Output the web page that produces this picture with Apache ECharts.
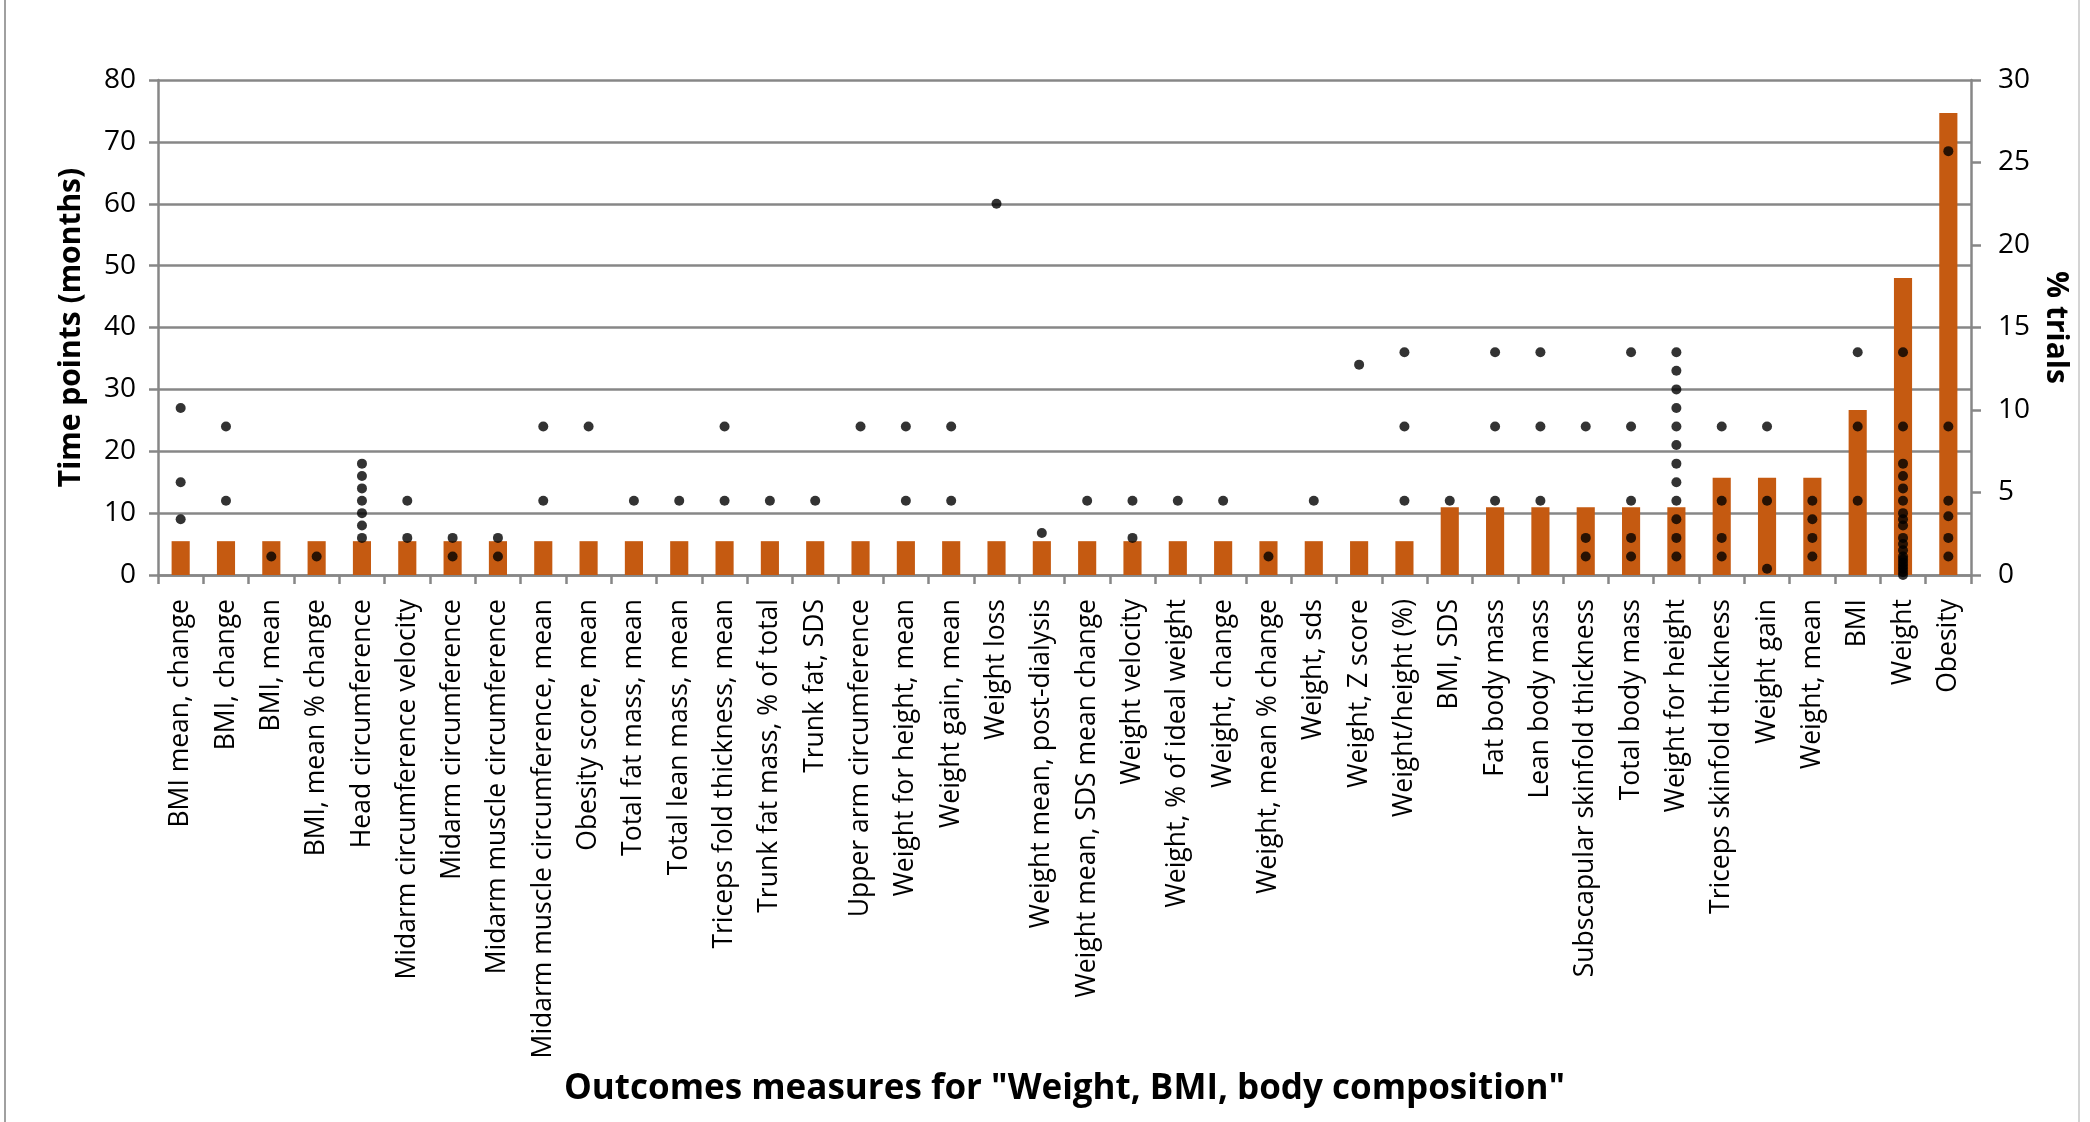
<!DOCTYPE html>
<html>
<head>
<meta charset="utf-8">
<title>Outcome measures</title>
<script src="https://cdn.jsdelivr.net/npm/echarts@6/dist/echarts.min.js"></script>
<style>
  html, body { margin: 0; padding: 0; background: #fff; }
  #chart { width: 2090px; height: 1122px; }
</style>
</head>
<body>
<div id="chart"></div>
<script>
// outcome measures (x axis)
var categories = [
  'BMI mean, change', 'BMI, change', 'BMI, mean', 'BMI, mean % change',
  'Head circumference', 'Midarm circumference velocity', 'Midarm circumference',
  'Midarm muscle circumference', 'Midarm muscle circumference, mean',
  'Obesity score, mean', 'Total fat mass, mean', 'Total lean mass, mean',
  'Triceps fold thickness, mean', 'Trunk fat mass, % of total', 'Trunk fat, SDS',
  'Upper arm circumference', 'Weight for height, mean', 'Weight gain, mean',
  'Weight loss', 'Weight mean, post-dialysis', 'Weight mean, SDS mean change',
  'Weight velocity', 'Weight, % of ideal weight', 'Weight, change',
  'Weight, mean % change', 'Weight, sds', 'Weight, Z score', 'Weight/height (%)',
  'BMI, SDS', 'Fat body mass', 'Lean body mass', 'Subscapular skinfold thickness',
  'Total body mass', 'Weight for height', 'Triceps skinfold thickness',
  'Weight gain', 'Weight, mean', 'BMI', 'Weight', 'Obesity'
];

// % trials (right axis, bars)
var trialPct = [
  2.05, 2.05, 2.05, 2.05, 2.05, 2.05, 2.05, 2.05, 2.05, 2.05,
  2.05, 2.05, 2.05, 2.05, 2.05, 2.05, 2.05, 2.05, 2.05, 2.05,
  2.05, 2.05, 2.05, 2.05, 2.05, 2.05, 2.05, 2.05,
  4.1, 4.1, 4.1, 4.1, 4.1, 4.1,
  5.9, 5.9, 5.9,
  10.0, 18.0, 28.0
];

// time points in months (left axis, dots), one list per outcome
var timePoints = [
  [27, 15, 9], [24, 12], [3], [3],
  [18, 16, 14, 12, 10, 8, 6], [12, 6], [6, 3], [6, 3],
  [24, 12], [24], [12], [12],
  [24, 12], [12], [12], [24],
  [24, 12], [24, 12], [60], [6.8],
  [12], [12, 6], [12], [12],
  [3], [12], [34], [36, 24, 12],
  [12], [36, 24, 12], [36, 24, 12], [24, 6, 3],
  [36, 24, 12, 6, 3],
  [36, 33, 30, 27, 24, 21, 18, 15, 12, 9, 6, 3],
  [24, 12, 6, 3], [24, 12, 1], [12, 9, 6, 3],
  [36, 24, 12],
  [36, 24, 18, 16, 14, 12, 10, 9, 8, 6, 5, 4, 3, 2.5, 2, 1.5, 1, 0.5, 0],
  [68.5, 24, 12, 9.5, 6, 3]
];

var dots = [];
for (var i = 0; i < timePoints.length; i++) {
  for (var j = 0; j < timePoints[i].length; j++) {
    dots.push([categories[i], timePoints[i][j]]);
  }
}

var axisGray = '#878787';
var font = 'Open Sans';

var myChart = echarts.init(document.getElementById('chart'));
var option = {
  backgroundColor: '#fff',
  animation: false,
  textStyle: { fontFamily: font, color: '#000' },
  grid: { left: 158, right: 119, top: 80, bottom: 547 },
  graphic: [
    { type: 'line', shape: { x1: 5, y1: 0, x2: 5, y2: 1122 }, style: { stroke: '#a0a0a0', lineWidth: 2 } },
    { type: 'line', shape: { x1: 2079, y1: 0, x2: 2079, y2: 1122 }, style: { stroke: '#d4d4d4', lineWidth: 2 } }
  ],
  xAxis: {
    type: 'category',
    data: categories,
    name: 'Outcomes measures for "Weight, BMI, body composition"',
    nameLocation: 'middle',
    nameGap: 497,
    nameTextStyle: { fontFamily: font, fontWeight: 'bold', fontSize: 35, color: '#000' },
    axisLine: { lineStyle: { color: axisGray, width: 2.5 } },
    axisTick: { show: true, interval: 0, length: 9, lineStyle: { color: axisGray, width: 2.5 } },
    axisLabel: { interval: 0, rotate: 90, margin: 24, fontSize: 26.5, color: '#000', fontFamily: font },
    splitLine: { show: false }
  },
  yAxis: [
    {
      type: 'value',
      min: 0, max: 80, interval: 10,
      name: 'Time points (months)',
      nameLocation: 'middle',
      nameRotate: 90,
      nameGap: 72,
      nameTextStyle: { fontFamily: font, fontWeight: 'bold', fontSize: 30, color: '#000' },
      axisLine: { show: true, lineStyle: { color: axisGray, width: 2.5 } },
      axisTick: { show: true, length: 9, lineStyle: { color: axisGray, width: 2.5 } },
      axisLabel: { margin: 22, fontSize: 28, color: '#000', fontFamily: font },
      splitLine: { show: true, lineStyle: { color: axisGray, width: 2.5 } }
    },
    {
      type: 'value',
      min: 0, max: 30, interval: 5,
      name: '% trials',
      nameLocation: 'middle',
      nameRotate: -90,
      nameGap: 65,
      nameTextStyle: { fontFamily: font, fontWeight: 'bold', fontSize: 30, color: '#000' },
      axisLine: { show: true, lineStyle: { color: axisGray, width: 2.5 } },
      axisTick: { show: true, length: 10, lineStyle: { color: axisGray, width: 2.5 } },
      axisLabel: { margin: 27, fontSize: 28, color: '#000', fontFamily: font },
      splitLine: { show: false }
    }
  ],
  series: [
    {
      name: '% trials',
      type: 'bar',
      yAxisIndex: 1,
      data: trialPct,
      barWidth: '40%',
      itemStyle: { color: '#c55a11' }
    },
    {
      name: 'Time points',
      type: 'scatter',
      yAxisIndex: 0,
      data: dots,
      symbol: 'circle',
      symbolSize: 10,
      itemStyle: { color: '#000' },
      z: 3
    }
  ]
};
myChart.setOption(option);
</script>
</body>
</html>
